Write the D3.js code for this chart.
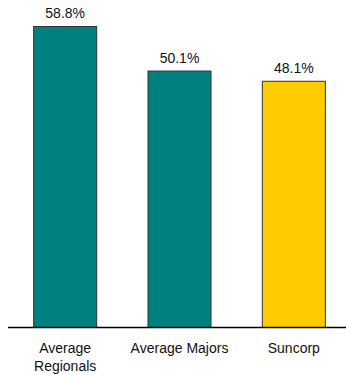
<!DOCTYPE html>
<html><head><meta charset="utf-8">
<script src="https://cdn.jsdelivr.net/npm/d3@7"></script>
<style>html,body{margin:0;padding:0;background:#fff;}svg{display:block;}</style>
</head><body>
<script>
const categories = [["Average", "Regionals"], ["Average Majors"], ["Suncorp"]];
const values = [58.8, 50.1, 48.1];
const labels = ["58.8%", "50.1%", "48.1%"];
const colors = ["#008080", "#008080", "#FFCC00"];

const W = 346, H = 375;
const svg = d3.select("body").append("svg").attr("width", W).attr("height", H);

const x = d3.scaleBand().domain(d3.range(values.length)).range([8, 351])
  .paddingInner(0.44).paddingOuter(0.22);
const y = d3.scaleLinear().domain([0, 58.8]).range([327, 26]);

svg.selectAll("rect.bar").data(values).join("rect")
  .attr("class", "bar")
  .attr("x", (d, i) => x(i) + 0.5)
  .attr("y", d => y(d) + 0.5)
  .attr("width", x.bandwidth() - 1)
  .attr("height", d => y(0) - y(d))
  .attr("fill", (d, i) => colors[i])
  .attr("stroke", "#333")
  .attr("stroke-width", 1);

svg.selectAll("text.val").data(values).join("text")
  .attr("class", "val")
  .attr("x", (d, i) => x(i) + x.bandwidth() / 2)
  .attr("y", d => y(d) - 8)
  .attr("text-anchor", "middle")
  .attr("font-family", "Liberation Sans, Arial, sans-serif")
  .attr("font-size", 14)
  .attr("fill", "#111")
  .text((d, i) => labels[i]);

svg.append("line")
  .attr("x1", 8).attr("x2", W)
  .attr("y1", y(0) + 0.5).attr("y2", y(0) + 0.5)
  .attr("stroke", "#000").attr("stroke-width", 1.5);

const cat = svg.selectAll("text.cat").data(categories).join("text")
  .attr("class", "cat")
  .attr("text-anchor", "middle")
  .attr("font-family", "Liberation Sans, Arial, sans-serif")
  .attr("font-size", 14)
  .attr("fill", "#111");
cat.each(function(lines, i) {
  const t = d3.select(this);
  lines.forEach((l, j) => {
    t.append("tspan")
      .attr("x", x(i) + x.bandwidth() / 2)
      .attr("y", 353 + j * 18)
      .text(l);
  });
});
</script>
</body></html>
